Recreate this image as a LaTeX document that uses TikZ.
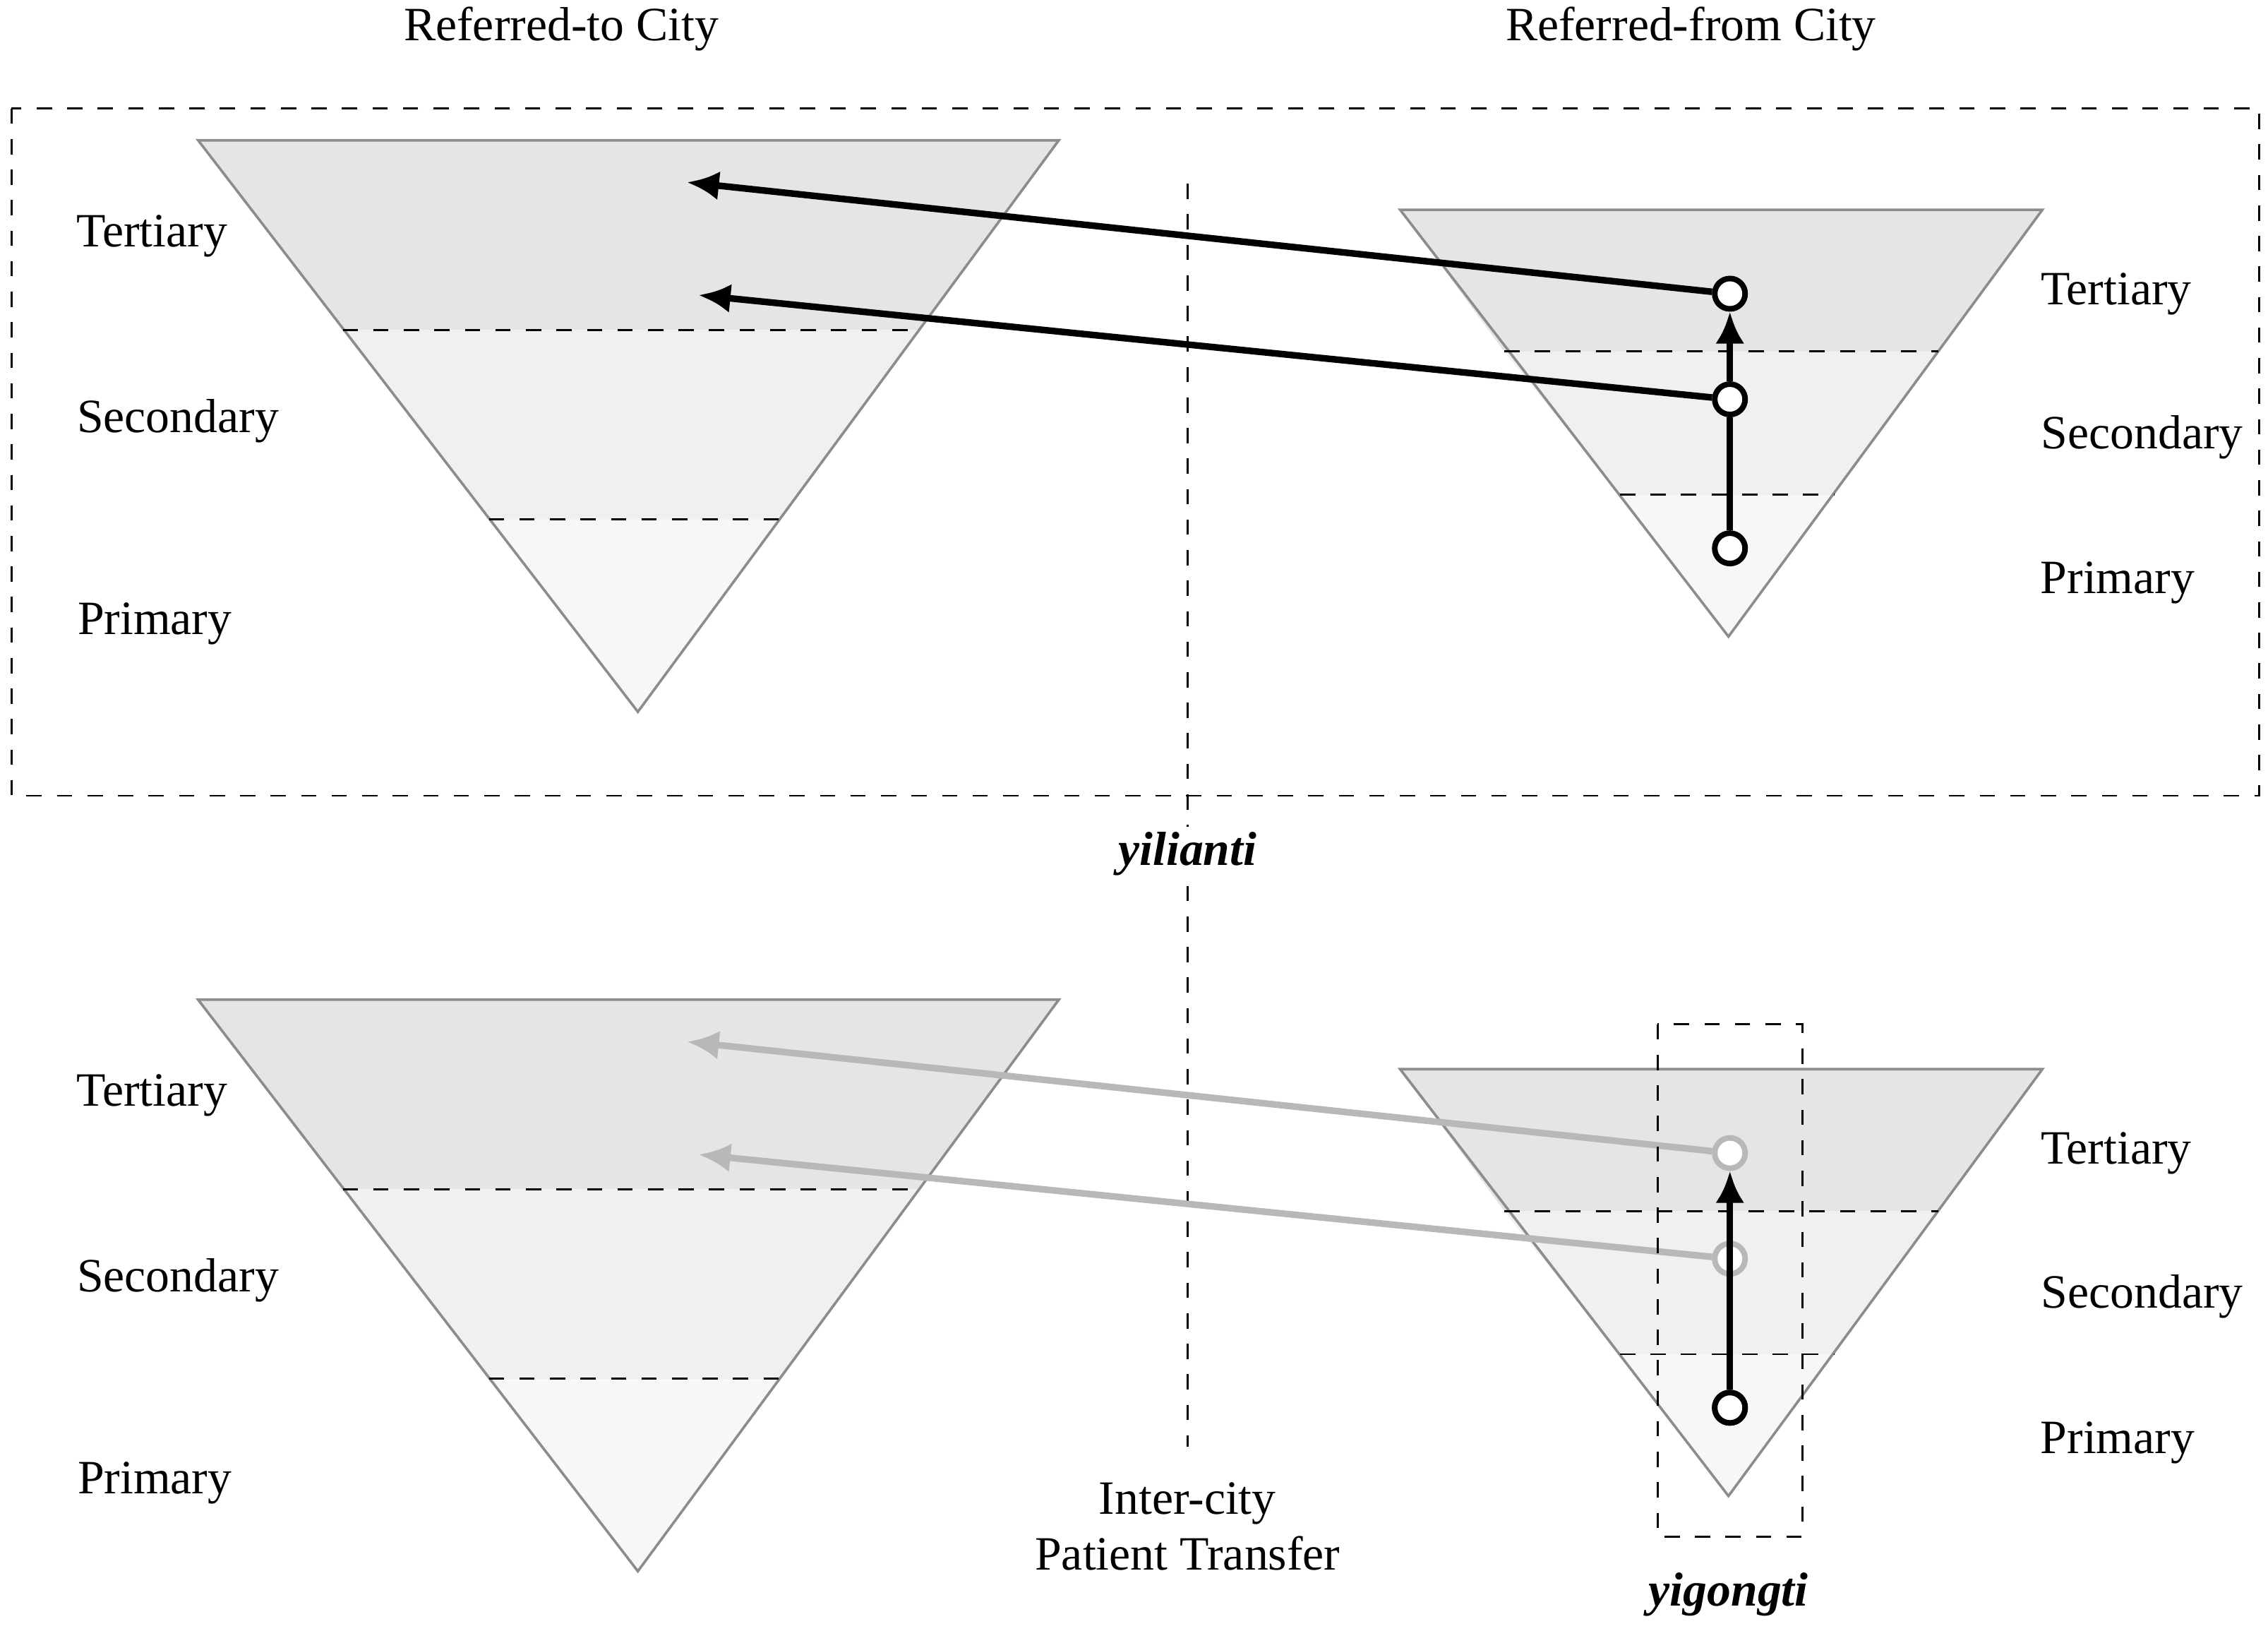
\documentclass[tikz,border=0pt]{standalone}
\usepackage{fontspec}
\setmainfont{Liberation Serif}
\usetikzlibrary{arrows.meta}
\tikzset{
	lvl/.style={font=\fontsize{9.4}{11}\selectfont},
	band/.style={dashed, line width=0.4pt},
	pt/.style={circle, draw, line width=1.1pt, fill=white, minimum size=0.21cm, inner sep=0pt},
	flow/.style={line width=1.3pt, -{Latex[length=0.22cm, width=0.2cm]}, shorten >=0pt}
}
\begin{document}
\begin{tikzpicture}[x=0.01cm, y=-0.01cm]

\useasboundingbox (0,0) rectangle (1568,1127);

\node[lvl] (toCity) at (388,20) {Referred-to City};
\node[lvl] (fromCity) at (1169,20) {Referred-from City};

\draw[band] (8,75) rectangle (1562,550);
\draw[band] (821,127) -- (821,1000);
\node[lvl, font=\fontsize{9.4}{11}\selectfont\bfseries\itshape, fill=white, inner sep=1pt] (yilianti) at (821,590) {yilianti};

\foreach \dy/\col in {0/black, 594/black!28} {
	% referred-to pyramid
	\fill[black!10] (137,97+\dy) -- (732,97+\dy) -- (636,228+\dy) -- (237,228+\dy) -- cycle;
	\fill[black!6] (237,228+\dy) -- (636,228+\dy) -- (540,359+\dy) -- (338,359+\dy) -- cycle;
	\fill[black!3] (338,359+\dy) -- (540,359+\dy) -- (441,492+\dy) -- cycle;
	\draw[black!45, line width=0.5pt] (137,97+\dy) -- (732,97+\dy) -- (441,492+\dy) -- cycle;
	\draw[band] (237,228+\dy) -- (636,228+\dy);
	\draw[band] (338,359+\dy) -- (540,359+\dy);
	% referred-from pyramid
	\fill[black!10] (968,145+\dy) -- (1412,145+\dy) -- (1340,243+\dy) -- (1040,243+\dy) -- cycle;
	\fill[black!6] (1040,243+\dy) -- (1340,243+\dy) -- (1268,342+\dy) -- (1120,342+\dy) -- cycle;
	\fill[black!3] (1120,342+\dy) -- (1268,342+\dy) -- (1195,440+\dy) -- cycle;
	\draw[black!45, line width=0.5pt] (968,145+\dy) -- (1412,145+\dy) -- (1195,440+\dy) -- cycle;
	\draw[band] (1040,243+\dy) -- (1340,243+\dy);
	\draw[band] (1120,342+\dy) -- (1268,342+\dy);
	% level labels
	\node[lvl] (lt\dy) at (105,163+\dy) {Tertiary};
	\node[lvl] (ls\dy) at (123,291+\dy) {Secondary};
	\node[lvl] (lp\dy) at (107,431+\dy) {Primary};
	\node[lvl] (rt\dy) at (1463,203+\dy) {Tertiary};
	\node[lvl] (rs\dy) at (1481,302+\dy) {Secondary};
	\node[lvl] (rp\dy) at (1464,403+\dy) {Primary};
	% transfers
	\coordinate (hT\dy) at (475,126+\dy);
	\coordinate (hS\dy) at (483,204+\dy);
	\node[pt, draw=\col] (cT\dy) at (1196,203+\dy) {};
	\node[pt, draw=\col] (cS\dy) at (1196,276+\dy) {};
	\node[pt] (cP\dy) at (1196,379+\dy) {};
	\draw[flow, draw=\col, fill=\col] (cT\dy) -- (hT\dy);
	\draw[flow, draw=\col, fill=\col] (cS\dy) -- (hS\dy);
}

% upward moves
\draw[line width=1.3pt] (cP0) -- (cS0);
\draw[flow] (cS0) -- (cT0);
\draw[line width=1.3pt] (cP594) -- (1196,870);
\draw[flow] (1196,870) -- (cT594);
\node[pt] at (1196,973) {};

\draw[band] (1146,708) rectangle (1246,1062);
\node[lvl, font=\fontsize{9.4}{11}\selectfont\bfseries\itshape] (yigongti) at (1195,1102) {yigongti};
\node[lvl, align=center] (transfer) at (821,1055) {Inter-city\\Patient Transfer};

\end{tikzpicture}
\end{document}
